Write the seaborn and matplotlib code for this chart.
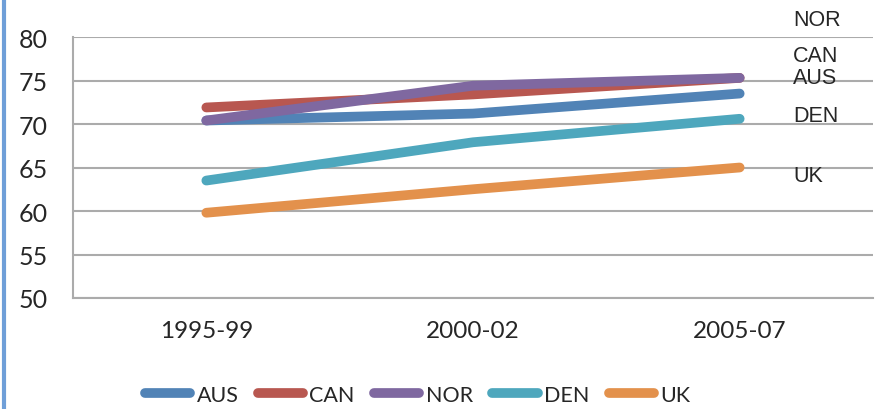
import pandas as pd
import seaborn as sns
import matplotlib.pyplot as plt
from matplotlib.lines import Line2D

# Datos
periodos = ["1995-99", "2000-02", "2005-07"]
paises = ["AUS", "CAN", "NOR", "DEN", "UK"]
aus = [70.4, 71.2, 73.5]
can = [71.9, 73.4, 75.3]
nor = [70.4, 74.4, 75.3]
den = [63.5, 67.9, 70.6]
uk = [59.8, 62.5, 65.0]

colores = ["#5183b6", "#b85750", "#7f68a0", "#4ea7bd", "#e3914c"]

df = pd.DataFrame({
    "periodo": periodos * 5,
    "pais": [p for p in paises for _ in periodos],
    "valor": aus + can + nor + den + uk,
})

sns.set_style("white")
plt.rcParams["font.family"] = ["Lato", "DejaVu Sans"]

fig = plt.figure(figsize=(8.85, 4.1), dpi=100)
ax = fig.add_axes([73 / 885, 1 - 299 / 410, 800 / 885, 261 / 410])

sns.lineplot(data=df, x="periodo", y="valor", hue="pais", palette=colores,
             linewidth=7, sort=False, legend=False, ax=ax,
             solid_capstyle="round")

ax.set_xlim(-0.5, 2.5)
ax.set_ylim(50, 80)
ax.set_yticks(range(50, 81, 5))
ax.set_xticks(range(3))
ax.set_xticklabels(periodos)
ax.set_xticks([-0.5, 0.5, 1.5, 2.5], minor=True)
ax.set_xlabel("")
ax.set_ylabel("")

gris = "#ababab"
ax.grid(axis="y", color=gris, linewidth=1.5)
ax.set_axisbelow(True)
for s in ["top", "right"]:
    ax.spines[s].set_visible(False)
for s in ["left", "bottom"]:
    ax.spines[s].set_color(gris)
    ax.spines[s].set_linewidth(1.5)

ax.tick_params(axis="y", length=5, width=1.5, color=gris, pad=13, labelsize=18)
ax.tick_params(axis="x", which="major", length=0, pad=16, labelsize=17.5)
ax.tick_params(axis="x", which="minor", length=5, width=1.5, color=gris)

# Etiquetas a la derecha
etiquetas = ["NOR", "CAN", "AUS", "DEN", "UK"]
pos_y = [82.0, 77.9, 75.3, 71.0, 64.1]
for t, yv in zip(etiquetas, pos_y):
    ax.text(2.2, yv, t, fontsize=15.5, family="Liberation Sans",
            va="center", ha="left", clip_on=False)

# Leyenda
handles = [Line2D([0], [0], color=c, linewidth=7, solid_capstyle="round")
           for c in colores]
fig.legend(handles, paises, loc="center", bbox_to_anchor=(0.472, 1 - 396 / 410),
           ncol=5, frameon=False, fontsize=15.5, handlelength=2.1,
           handletextpad=0.3, columnspacing=0.9)

# Linea azul del borde izquierdo
fig.add_artist(Line2D([4 / 885, 4 / 885], [0, 1], color="#6f9fd8", linewidth=3))

fig.savefig("out.png", dpi=100)
